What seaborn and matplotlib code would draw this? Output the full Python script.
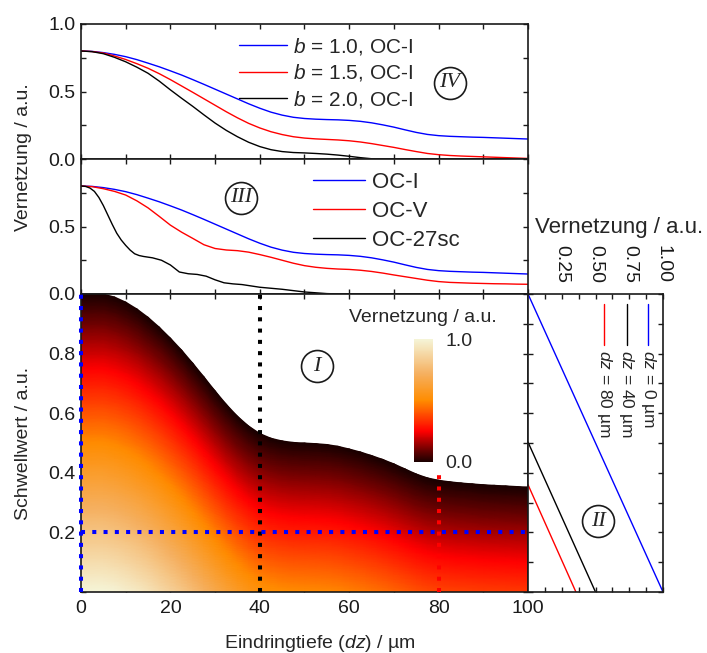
import numpy as np
import pandas as pd
import matplotlib
matplotlib.use("Agg")
import matplotlib.pyplot as plt
import seaborn as sns
from matplotlib.colors import LinearSegmentedColormap
from matplotlib.ticker import MultipleLocator, FixedLocator, FixedFormatter

# ---------------- data ----------------
dz = [0, 2.5, 5, 7.5, 10, 12.5, 15, 17.5, 20, 22.5, 25, 27.5, 30, 32.5, 35, 37.5, 40,
      42.5, 45, 47.5, 50, 52.5, 55, 57.5, 60, 62.5, 65, 67.5, 70, 72.5, 75, 77.5, 80,
      82.5, 85, 87.5, 90, 92.5, 95, 97.5, 100]
oc_i_b10 = [0.800, 0.797, 0.788, 0.775, 0.758, 0.736, 0.710, 0.683, 0.653, 0.622, 0.588,
            0.553, 0.517, 0.481, 0.445, 0.409, 0.376, 0.347, 0.325, 0.309, 0.300, 0.295,
            0.292, 0.290, 0.286, 0.279, 0.268, 0.253, 0.236, 0.216, 0.197, 0.182, 0.173,
            0.168, 0.165, 0.162, 0.160, 0.157, 0.154, 0.151, 0.148]
oc_i_b15 = [0.800, 0.796, 0.785, 0.763, 0.737, 0.706, 0.672, 0.632, 0.588, 0.541, 0.494,
            0.446, 0.398, 0.350, 0.305, 0.264, 0.230, 0.202, 0.181, 0.165, 0.155, 0.149,
            0.145, 0.141, 0.135, 0.126, 0.114, 0.100, 0.086, 0.070, 0.055, 0.041, 0.032,
            0.026, 0.022, 0.019, 0.016, 0.013, 0.010, 0.007, 0.004]
oc_i_b20 = [0.800, 0.795, 0.780, 0.753, 0.720, 0.680, 0.635, 0.577, 0.512, 0.450, 0.390,
            0.327, 0.266, 0.212, 0.165, 0.124, 0.092, 0.069, 0.055, 0.048, 0.045, 0.041,
            0.036, 0.029, 0.020, 0.010, 0.002, 0.0, 0.0, 0.0, 0.0, 0.0, 0.0,
            0.0, 0.0, 0.0, 0.0, 0.0, 0.0, 0.0, 0.0]
oc_v = [0.800, 0.795, 0.780, 0.760, 0.733, 0.690, 0.638, 0.575, 0.510, 0.458, 0.412,
        0.365, 0.337, 0.326, 0.321, 0.310, 0.292, 0.272, 0.250, 0.228, 0.210, 0.198,
        0.190, 0.185, 0.182, 0.176, 0.167, 0.155, 0.141, 0.128, 0.115, 0.102, 0.092,
        0.086, 0.083, 0.080, 0.078, 0.076, 0.075, 0.073, 0.072]
dz_27sc = [0, 1, 2, 3, 4, 5, 6, 7, 8, 9, 10, 11, 12, 13, 14, 16, 18, 20, 22, 24, 26, 28,
           30, 32, 34, 36, 38, 40, 45, 50, 55, 58, 100]
oc_27sc = [0.800, 0.797, 0.785, 0.760, 0.715, 0.655, 0.585, 0.515, 0.450, 0.400, 0.360,
           0.325, 0.298, 0.285, 0.278, 0.268, 0.250, 0.215, 0.163, 0.150, 0.145, 0.132,
           0.105, 0.083, 0.075, 0.070, 0.060, 0.050, 0.035, 0.015, 0.003, 0.0, 0.0]

# upper limit of the threshold map (panel I); Vernetzung = limit - threshold
map_dz = dz
map_limit = [1.0, 1.0, 1.0, 0.99, 0.973, 0.95, 0.922, 0.889, 0.852, 0.812, 0.768, 0.722,
             0.675, 0.63, 0.59, 0.557, 0.532, 0.516, 0.507, 0.502, 0.50, 0.498, 0.495,
             0.489, 0.48, 0.47, 0.458, 0.445, 0.43, 0.413, 0.396, 0.383, 0.375, 0.37,
             0.366, 0.363, 0.36, 0.358, 0.356, 0.354, 0.352]

# cut lines in panel I
cut_dz = [0, 40, 80]
cut_top = [1.0, 1.0, 0.41]
cut_colors = ["#0000ff", "#000000", "#ff0000"]
cut_threshold = 0.2

# panel II: Vernetzung vs threshold for three depths
ii_labels = ["$dz$ = 0 µm", "$dz$ = 40 µm", "$dz$ = 80 µm"]
ii_colors = ["#0000ff", "#000000", "#ff0000"]
ii_vern = [[0.0, 1.0], [0.0, 0.50], [0.0, 0.355]]
ii_thr = [[1.0, 0.0], [0.503, 0.0], [0.36, 0.0]]

# ---------------- style ----------------
sns.set_theme(style="ticks")
plt.rcParams["font.family"] = ["Liberation Sans", "DejaVu Sans"]
plt.rcParams["mathtext.fontset"] = "custom"
plt.rcParams["mathtext.rm"] = "Liberation Sans"
plt.rcParams["mathtext.it"] = "Liberation Sans:italic"
plt.rcParams["axes.linewidth"] = 1.2
plt.rcParams["axes.edgecolor"] = "k"

W, H = 707, 653
fig = plt.figure(figsize=(W / 100, H / 100), dpi=100)


def px_axes(l, t, r, b):
    return fig.add_axes([l / W, 1 - b / H, (r - l) / W, (b - t) / H])


axIV = px_axes(81, 24, 528, 159)
axIII = px_axes(81, 159, 528, 294)
axI = px_axes(81, 294, 528, 592)
axII = px_axes(528, 294, 663, 592)


def style(ax):
    ax.tick_params(which="both", direction="in", top=True, right=True, length=3.6,
                   width=1.0, labelsize=14, color="k", labelcolor="k", pad=4)
    for s in ax.spines.values():
        s.set_linewidth(1.2)
        s.set_color("k")


for ax in (axIV, axIII, axI, axII):
    style(ax)

# ---------------- panel IV ----------------
dfIV = pd.DataFrame({"dz": dz, "b10": oc_i_b10, "b15": oc_i_b15, "b20": oc_i_b20})
sns.lineplot(data=dfIV, x="dz", y="b10", ax=axIV, color="#0000ff", lw=1.0, label="$b$ = 1.0, OC-I")
sns.lineplot(data=dfIV, x="dz", y="b15", ax=axIV, color="#ff0000", lw=1.0, label="$b$ = 1.5, OC-I")
sns.lineplot(data=dfIV, x="dz", y="b20", ax=axIV, color="#000000", lw=1.0, label="$b$ = 2.0, OC-I")
axIV.set_xlim(0, 100)
axIV.set_ylim(0, 1)
axIV.xaxis.set_major_locator(MultipleLocator(10))
axIV.tick_params(axis="x", labelbottom=False)
axIV.yaxis.set_major_locator(FixedLocator([0, 0.25, 0.5, 0.75, 1.0]))
axIV.yaxis.set_major_formatter(FixedFormatter(["0.0", "", "0.5", "", "1.0"]))
axIV.set_xlabel("")
axIV.set_ylabel("")
axIV.legend(loc="upper left", bbox_to_anchor=((239 - 81) / 447, 0.913), frameon=False,
            fontsize=15, handlelength=2.3, handletextpad=0.3, labelspacing=0.27,
            borderpad=0, borderaxespad=0)

# ---------------- panel III ----------------
dfIII = pd.DataFrame({"dz": dz, "oci": oc_i_b10, "ocv": oc_v})
df27 = pd.DataFrame({"dz": dz_27sc, "v": oc_27sc})
sns.lineplot(data=dfIII, x="dz", y="oci", ax=axIII, color="#0000ff", lw=1.0, label="OC-I")
sns.lineplot(data=dfIII, x="dz", y="ocv", ax=axIII, color="#ff0000", lw=1.0, label="OC-V")
sns.lineplot(data=df27, x="dz", y="v", ax=axIII, color="#000000", lw=1.0, label="OC-27sc")
axIII.set_xlim(0, 100)
axIII.set_ylim(0, 1)
axIII.xaxis.set_major_locator(MultipleLocator(10))
axIII.tick_params(axis="x", labelbottom=False)
axIII.yaxis.set_major_locator(FixedLocator([0, 0.25, 0.5, 0.75, 1.0]))
axIII.yaxis.set_major_formatter(FixedFormatter(["0.0", "", "0.5", "", ""]))
axIII.set_xlabel("")
axIII.set_ylabel("")
axIII.legend(loc="upper left", bbox_to_anchor=((313 - 81) / 447, 0.907), frameon=False,
             fontsize=16, handlelength=2.34, handletextpad=0.32, labelspacing=0.365,
             borderpad=0, borderaxespad=0)

# ---------------- panel I (threshold map) ----------------
cmap = LinearSegmentedColormap.from_list(
    "vern", [(0.0, "#1a0000"), (0.1, "#700000"), (0.25, "#ff0000"), (0.5, "#ff8c00"),
             (0.72, "#f5b060"), (1.0, "#f5f5d8")])
u = np.linspace(0, 1, 80)
B = np.array(map_limit)
X = np.repeat(np.array(map_dz, dtype=float)[None, :], len(u), axis=0)
Y = u[:, None] * B[None, :]
C = B[None, :] - Y
mesh = axI.pcolormesh(X, Y, C, cmap=cmap, vmin=0, vmax=1, shading="gouraud", zorder=1)

for x0, top, c in zip(cut_dz, cut_top, cut_colors):
    axI.plot([x0, x0], [0, top], color=c, ls=(0, (1, 1.8)), lw=2.9,
             dash_capstyle="butt", zorder=5, clip_on=False)
axI.plot([0, 100], [cut_threshold, cut_threshold], color="#0000ff", ls=(0, (1, 1.8)),
         lw=2.9, dash_capstyle="butt", zorder=5, clip_on=False)

axI.set_xlim(0, 100)
axI.set_ylim(0, 1)
axI.xaxis.set_major_locator(FixedLocator(list(range(0, 101, 10))))
axI.xaxis.set_major_formatter(FixedFormatter([str(v) if v % 20 == 0 else "" for v in range(0, 101, 10)]))
yt = [round(v, 1) for v in np.arange(0, 1.01, 0.1)]
axI.yaxis.set_major_locator(FixedLocator(yt))
axI.yaxis.set_major_formatter(FixedFormatter([f"{v:.1f}" if v in (0.2, 0.4, 0.6, 0.8) else "" for v in yt]))
axI.tick_params(axis="x", pad=6)

# colorbar
cax = fig.add_axes([414 / W, 1 - 462 / H, 19 / W, 123 / H])
cb = fig.colorbar(mesh, cax=cax, ticks=[0, 1])
cb.outline.set_visible(False)
cb.ax.set_yticklabels(["0.0", "1.0"])
cb.ax.tick_params(length=0, labelsize=14, pad=9)
fig.text(423 / W, 1 - 317 / H, "Vernetzung / a.u.", ha="center", va="center", fontsize=14)

# ---------------- panel II ----------------
for lab, c, xv, yv in zip(ii_labels, ii_colors, ii_vern, ii_thr):
    sns.lineplot(x=xv, y=yv, ax=axII, color=c, lw=1.0, sort=False, estimator=None)
axII.set_xlim(0, 1.0)
axII.set_ylim(0, 1)
axII.xaxis.set_major_locator(FixedLocator([0.25, 0.5, 0.75, 1.0]))
axII.xaxis.set_major_formatter(FixedFormatter(["0.25", "0.50", "0.75", "1.00"]))
axII.xaxis.set_minor_locator(FixedLocator([0.125, 0.375, 0.625, 0.875]))
axII.yaxis.set_major_locator(FixedLocator(yt))
axII.tick_params(axis="x", which="both", labeltop=True, labelbottom=False, labelrotation=270, pad=8)
axII.tick_params(axis="y", labelleft=False)
axII.set_xlabel("")
axII.set_ylabel("")
fig.text(619 / W, 1 - 227 / H, "Vernetzung / a.u.", ha="center", va="center", fontsize=16)

# rotated legend of panel II
leg_x = [(648.3 - 528) / 135, (626.7 - 528) / 135, (604.3 - 528) / 135]
for xx, lab, c in zip(leg_x, ii_labels, ii_colors):
    axII.plot([xx, xx], [0.966, 0.829], color=c, lw=1.0, transform=axII.transAxes)
    axII.text(xx, 0.812, lab, rotation=270, ha="center", va="top", fontsize=12.5,
              transform=axII.transAxes)

# ---------------- circled numerals ----------------
def numeral(ax, x, y, s):
    ax.plot([x], [y], marker="o", ms=23, mfc="none", mec="k", mew=1.2,
            transform=ax.transAxes, clip_on=False, zorder=6)
    ax.text(x, y, s, transform=ax.transAxes, ha="center", va="center",
            family="Liberation Serif", style="italic", fontsize=16, zorder=7)


numeral(axIV, 0.8255, 0.565, "IV")
numeral(axIII, 0.3586, 0.713, "III")
numeral(axI, 0.528, 0.758, "I")
numeral(axII, 0.5185, 0.238, "II")

# ---------------- axis labels ----------------
fig.text(24 / W, 1 - 443 / H, "Schwellwert / a.u.", rotation=90, ha="center", va="center", fontsize=14)
fig.text(24 / W, 1 - 157 / H, "Vernetzung / a.u.", rotation=90, ha="center", va="center", fontsize=14)
fig.text(320 / W, 1 - 643 / H, "Eindringtiefe ($dz$) / µm", ha="center", va="center", fontsize=14)

fig.savefig("out.png", dpi=100)
